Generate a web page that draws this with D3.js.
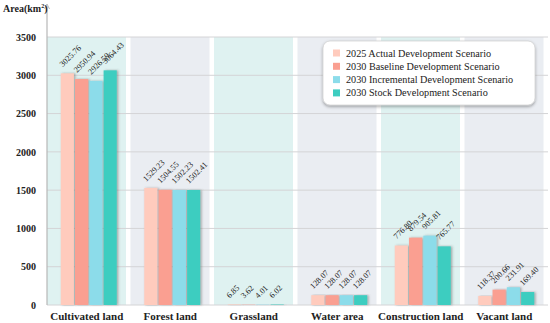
<!DOCTYPE html>
<html>
<head>
<meta charset="utf-8">
<script src="https://cdn.jsdelivr.net/npm/d3@7"></script>
<style>
  body { margin: 0; background: #fff; }
  svg text { font-family: "Liberation Serif", "DejaVu Serif", serif; }
</style>
</head>
<body>
<div id="chart-area"></div>
<script>
const categories = ["Cultivated land", "Forest land", "Grassland", "Water area", "Construction land", "Vacant land"];
const scenarios = [
  "2025 Actual Development Scenario",
  "2030 Baseline Development Scenario",
  "2030 Incremental Development Scenario",
  "2030 Stock Development Scenario"
];
const actual2025 = [3025.76, 1529.23, 6.85, 128.07, 776.80, 118.37];
const baseline2030 = [2950.94, 1504.55, 3.62, 128.07, 879.54, 200.66];
const incremental2030 = [2926.59, 1502.23, 4.01, 128.07, 905.81, 231.91];
const stock2030 = [3064.43, 1502.41, 6.02, 128.07, 765.77, 169.40];
const yTicks = [0, 500, 1000, 1500, 2000, 2500, 3000, 3500];

const colors = ["#ffcbbd", "#fa9f91", "#8cdcea", "#3dcdc0"];
const bandColors = ["#dff2f1", "#eaedf2"];

const drawChart = () => {
  const WIDTH = 550;
  const HEIGHT = 323;
  const LEFT = 47;
  const RIGHT = 548;
  const TOP = 37;
  const BOTTOM = 305;
  const FONT = "Liberation Serif, DejaVu Serif, serif";

  const series = [actual2025, baseline2030, incremental2030, stock2030];

  const svg = d3.select("#chart-area")
    .append("svg")
    .attr("width", WIDTH)
    .attr("height", HEIGHT);

  const defs = svg.append("defs");
  defs.append("filter")
    .attr("id", "barShadow")
    .attr("x", "-20%").attr("y", "-10%")
    .attr("width", "160%").attr("height", "130%")
    .append("feDropShadow")
    .attr("dx", 1.5).attr("dy", 0)
    .attr("stdDeviation", 0.8)
    .attr("flood-color", "#555")
    .attr("flood-opacity", 0.45);
  defs.append("filter")
    .attr("id", "boxShadow")
    .attr("x", "-10%").attr("y", "-20%")
    .attr("width", "120%").attr("height", "150%")
    .append("feDropShadow")
    .attr("dx", 0).attr("dy", 1.5)
    .attr("stdDeviation", 1.5)
    .attr("flood-color", "#000")
    .attr("flood-opacity", 0.35);

  const y = d3.scaleLinear()
    .domain([0, 3500])
    .range([BOTTOM, TOP]);

  const x0 = d3.scaleBand()
    .domain(categories)
    .range([LEFT, RIGHT])
    .padding(0);

  const GROUP = 56;
  const x1 = d3.scaleBand()
    .domain(d3.range(scenarios.length))
    .range([0, GROUP])
    .paddingInner(0.08);

  // background bands
  svg.append("g")
    .selectAll("rect")
    .data(categories)
    .join("rect")
    .attr("x", d => x0(d))
    .attr("y", TOP)
    .attr("width", x0.bandwidth() - 4.5)
    .attr("height", BOTTOM - TOP)
    .attr("fill", (d, i) => bandColors[i % 2]);

  // grid lines
  svg.append("g")
    .selectAll("line")
    .data(yTicks)
    .join("line")
    .attr("x1", LEFT)
    .attr("x2", RIGHT)
    .attr("y1", d => y(d))
    .attr("y2", d => y(d))
    .attr("stroke", "#d4d4d6")
    .attr("stroke-width", 1);

  // y axis line with arrow
  svg.append("line")
    .attr("x1", LEFT).attr("x2", LEFT)
    .attr("y1", 6).attr("y2", BOTTOM)
    .attr("stroke", "#b8b8b8")
    .attr("stroke-width", 1.2);
  svg.append("path")
    .attr("d", `M${LEFT - 2.5},9 L${LEFT},4 L${LEFT + 2.5},9`)
    .attr("fill", "none")
    .attr("stroke", "#b8b8b8")
    .attr("stroke-width", 1);

  const yAxis = svg.append("g")
    .attr("transform", `translate(${LEFT},0)`)
    .call(d3.axisLeft(y).tickValues(yTicks).tickFormat(d3.format("d")).tickSize(0).tickPadding(11));
  yAxis.attr("font-family", FONT);
  yAxis.select(".domain").remove();
  yAxis.selectAll("text")
    .attr("font-weight", "bold")
    .attr("font-size", 10)
    .attr("fill", "#222");

  svg.append("text")
    .attr("x", 3)
    .attr("y", 12)
    .attr("font-weight", "bold")
    .attr("font-size", 10)
    .attr("fill", "#222")
    .html('Area(km<tspan dy="-4" font-size="6">2</tspan><tspan dy="4">)</tspan>');

  // bars
  const groups = svg.append("g")
    .selectAll("g")
    .data(categories)
    .join("g")
    .attr("transform", d => `translate(${x0(d) + (x0.step() - GROUP) / 2},0)`);

  groups.selectAll("rect")
    .data((c, ci) => series.map((s, si) => ({ si, v: s[ci] })))
    .join("rect")
    .attr("x", d => x1(d.si))
    .attr("y", d => y(d.v))
    .attr("width", x1.bandwidth())
    .attr("height", d => BOTTOM - y(d.v))
    .attr("fill", d => colors[d.si])
    .attr("filter", "url(#barShadow)");

  groups.selectAll("text")
    .data((c, ci) => series.map((s, si) => ({ si, v: s[ci] })))
    .join("text")
    .attr("transform", d =>
      `translate(${x1(d.si) + 2},${y(d.v) - 6}) rotate(-45)`)
    .attr("font-size", 8.2)
    .attr("fill", "#222")
    .text(d => d.v.toFixed(2));

  // category labels
  svg.append("g")
    .selectAll("text")
    .data(categories)
    .join("text")
    .attr("x", d => x0(d) + x0.step() / 2 - 2)
    .attr("y", 320)
    .attr("text-anchor", "middle")
    .attr("font-weight", "bold")
    .attr("font-size", 11)
    .attr("fill", "#222")
    .text(d => d);

  // legend
  const legend = svg.append("g").attr("transform", "translate(323,41)");
  legend.append("rect")
    .attr("width", 212)
    .attr("height", 64)
    .attr("rx", 7)
    .attr("fill", "#fff")
    .attr("stroke", "#c8c8c8")
    .attr("stroke-width", 0.6)
    .attr("filter", "url(#boxShadow)");
  const items = legend.selectAll("g.item")
    .data(scenarios)
    .join("g")
    .attr("class", "item")
    .attr("transform", (d, i) => `translate(10,${12 + i * 13.3})`);
  items.append("rect")
    .attr("x", 0).attr("y", -3.5)
    .attr("width", 7).attr("height", 7)
    .attr("fill", (d, i) => colors[i]);
  items.append("text")
    .attr("x", 13)
    .attr("y", 3.5)
    .attr("font-size", 10.2)
    .attr("fill", "#222")
    .text(d => d);
};

window.onload = drawChart;
</script>
</body>
</html>
